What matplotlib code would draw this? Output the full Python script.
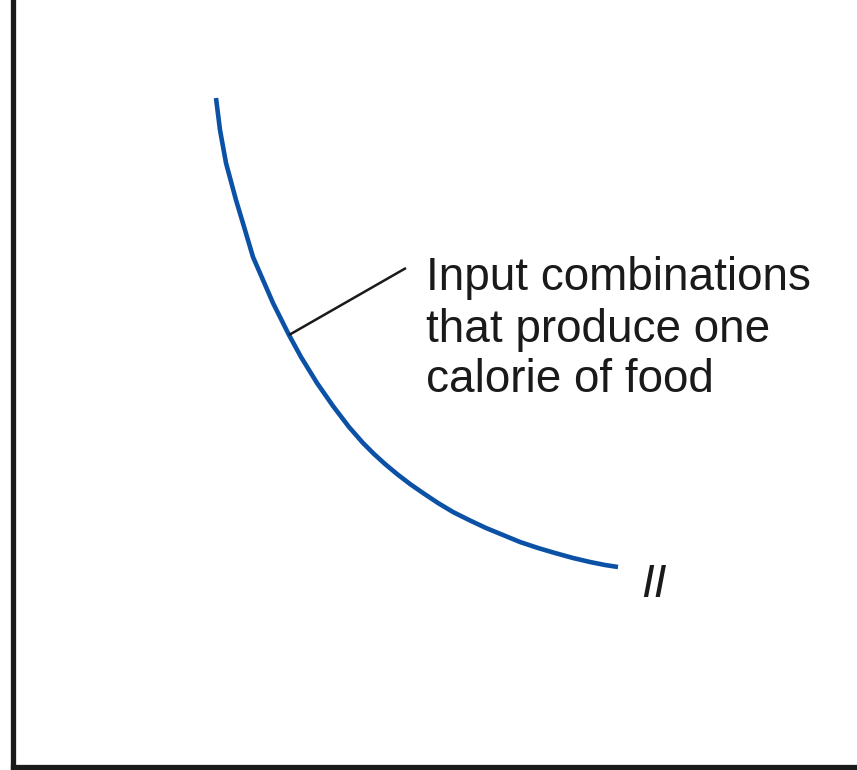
import matplotlib.pyplot as plt

# Isoquant (x to the right, y downward from the top)
curve_x = [216, 220, 226, 236, 245, 253, 263, 273, 283, 289, 301, 317, 333,
           349, 363, 374, 385, 397, 410, 423, 438, 453, 469, 486, 503, 520,
           538, 555, 573, 590, 605, 618]
curve_y = [98, 130, 163, 200, 230, 257, 280, 303, 323, 335, 357, 383, 406,
           427, 443, 454, 464, 474, 484, 493, 503, 512, 520, 528, 535, 542,
           548, 553, 558, 562, 565, 567]

# Leader line from the curve to the label
leader_x = [289, 406]
leader_y = [335, 268]

label_lines = ["Input combinations", "that produce one", "calorie of food"]
label_baselines = [290, 342, 392]
curve_name = "II"

fig = plt.figure(figsize=(8.57, 7.7), dpi=100)
W, H = 857, 770
ax = fig.add_axes([13 / W, 3 / H, 1 - 13 / W, 1 - 3 / H])
ax.set_xlim(13, 857)
ax.set_ylim(767, 0)

ax.plot(curve_x, curve_y, color="#0b52a6", lw=3.3, solid_capstyle="butt",
        solid_joinstyle="round")
ax.plot(leader_x, leader_y, color="#1a1a1a", lw=1.8, solid_capstyle="butt")

for line, yb in zip(label_lines, label_baselines):
    ax.text(426, yb, line, fontsize=33, family="Liberation Sans",
            color="#1a1a1a", va="baseline", ha="left")
ax.text(641, 597, curve_name, fontsize=33, family="Liberation Sans",
        style="italic", color="#1a1a1a", va="baseline", ha="left")

ax.set_xticks([])
ax.set_yticks([])
for side in ["top", "right"]:
    ax.spines[side].set_visible(False)
for side in ["left", "bottom"]:
    ax.spines[side].set_linewidth(3.8)
    ax.spines[side].set_color("#1a1a1a")

fig.savefig("out.png", dpi=100)
